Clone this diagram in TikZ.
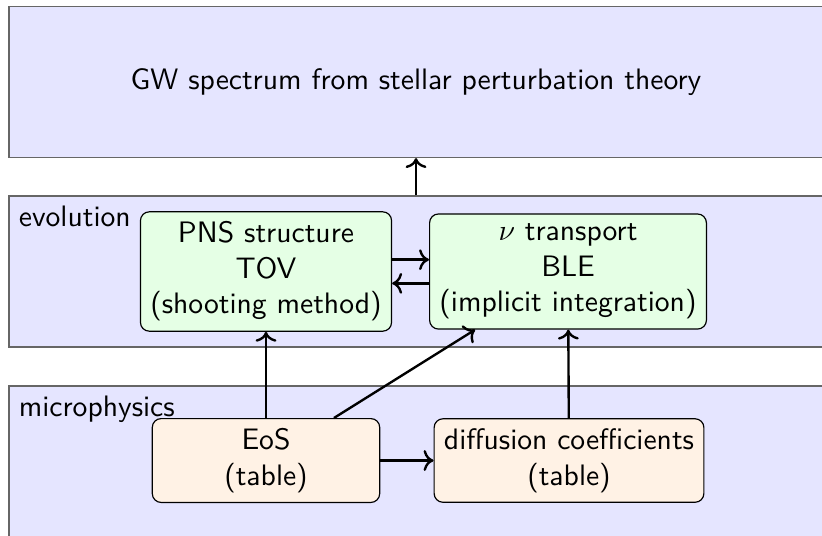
\documentclass[tikz,border=0pt]{standalone}
\usepackage{tikz}
\usetikzlibrary{arrows.meta,positioning}

\begin{document}
\begin{tikzpicture}[x=0.3378pt,y=0.3378pt,yscale=-1,xscale=1,
  layer/.style = {draw=black!60, fill=blue!10,
  minimum width=277pt, minimum height=51pt, inner sep=0pt},
  solver/.style = {draw, rounded corners=3pt, fill=green!10,
  align=center, font=\sffamily},
  data/.style = {draw, rounded corners=3pt, fill=orange!10,
  align=center, font=\sffamily, minimum width=2.7cm},
  font=\sffamily,
  >={To},
  every edge/.style={draw, ->, thick}]
  \useasboundingbox (0,0) rectangle (822,535);
  \clip (0,0) rectangle (822,535);

  % layers
  \node[layer] (gw) at (419,82) {};
  \node (gwtxt) at (416,82) {GW spectrum from stellar perturbation theory};
  \node[layer] (evol) at (419,271.5) {};
  \node[layer] (micro) at (419,461.5) {};
  \node[anchor=north west] (evollab) at (evol.north west) {evolution};
  \node[anchor=north west] (microlab) at (micro.north west) {microphysics};

  % boxes
  \node[solver] (pns) at (266,271.5) {PNS structure\\TOV\\(shooting method)};
  \node[solver] (nu) at (568,271.5) {$\nu$ transport\\BLE\\(implicit integration)};
  \node[data] (eos) at (266,460.5) {EoS\\(table)};
  \node[data] (diff) at (569,460.5) {diffusion coefficients\\(table)};

  \draw (evol.north -| gwtxt) edge (gw.south -| gwtxt);
  \draw ([yshift=-4pt]pns.east) edge ([yshift=-4pt]nu.west);
  \draw ([yshift=4pt]nu.west) edge ([yshift=4pt]pns.east);
  \draw (eos) edge (pns);
  \draw (eos) edge (nu);
  \draw (diff) edge (nu);
  \draw (eos) edge (diff);
\end{tikzpicture}
\end{document}
